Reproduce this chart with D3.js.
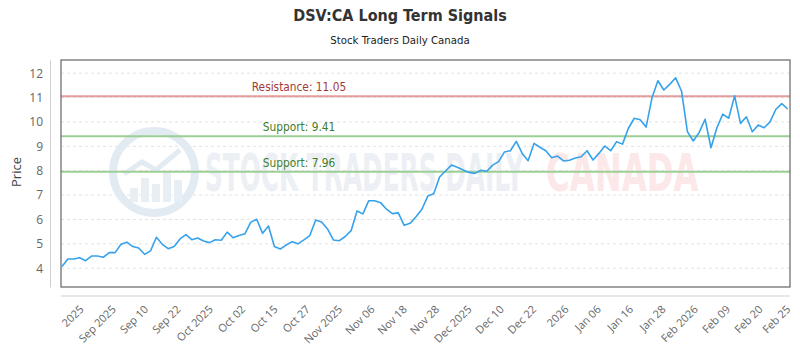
<!DOCTYPE html>
<html>
<head>
<meta charset="utf-8">
<script src="https://cdn.jsdelivr.net/npm/d3@7"></script>
<style>
  body { margin: 0; background: #fff; }
  text { font-family: "Open Sans", "DejaVu Sans", sans-serif; }
</style>
</head>
<body>
<svg id="chart" width="800" height="350"></svg>
<script>
// Daily closing prices, oldest first
const prices = [
  4.07, 4.38, 4.38, 4.43, 4.31, 4.50, 4.50, 4.45, 4.64, 4.64,
  4.98, 5.07, 4.89, 4.83, 4.57, 4.71, 5.27, 4.98, 4.80, 4.89,
  5.20, 5.38, 5.17, 5.24, 5.12, 5.05, 5.17, 5.15, 5.48, 5.25,
  5.34, 5.41,
  5.89, 6.01, 5.43, 5.73, 4.89, 4.79, 4.95, 5.09, 5.00, 5.16,
  5.34, 5.98, 5.90, 5.61, 5.16, 5.13, 5.30, 5.54, 6.35, 6.23,
  6.77, 6.77, 6.69, 6.42, 6.24, 6.27, 5.76, 5.84, 6.11, 6.42,
  6.96, 7.05, 7.74, 7.99, 8.23,
  8.14, 8.03, 7.93, 7.89, 8.02, 7.98, 8.23, 8.37, 8.77, 8.82,
  9.20, 8.71, 8.41, 9.12, 8.96, 8.82, 8.53, 8.60, 8.40, 8.43,
  8.52, 8.57, 8.82, 8.44, 8.71, 9.01, 8.82,
  9.19, 9.09, 9.74, 10.15, 10.09, 9.79, 10.99, 11.69, 11.31, 11.54,
  11.81, 11.27, 9.60, 9.22, 9.57, 10.11, 8.94, 9.76, 10.32, 10.15,
  11.07, 9.94, 10.21, 9.60, 9.87, 9.76, 10.00, 10.52, 10.75, 10.53
];

// Date labels along the bottom axis
const tickLabels = [
  "2025", "Sep 2025", "Sep 10", "Sep 22", "Oct 2025", "Oct 02", "Oct 15",
  "Oct 27", "Nov 2025", "Nov 06", "Nov 18", "Nov 28", "Dec 2025", "Dec 10",
  "Dec 22", "2026", "Jan 06", "Jan 16", "Jan 28", "Feb 2026", "Feb 09",
  "Feb 20", "Feb 25"
];

const yTicks = [4, 5, 6, 7, 8, 9, 10, 11, 12];

// Signal levels
const levelNames = ["Resistance", "Support", "Support"];
const levelValues = [11.05, 9.41, 7.96];
const levelKinds = ["res", "sup", "sup"];

const svg = d3.select("#chart");
const plot = { left: 61, right: 790, top: 60, bottom: 287 };
const narrow = "'Liberation Sans Narrow', 'DejaVu Sans Condensed', sans-serif";

const x = d3.scaleLinear().domain([0, prices.length - 1]).range([62, 787.7]);
const y = d3.scaleLinear().domain([3.23, 12.54]).range([plot.bottom, plot.top]);

// Title block
svg.append("text")
  .attr("x", 400).attr("y", 21)
  .attr("text-anchor", "middle")
  .style("font-family", narrow)
  .style("font-weight", "bold").style("font-size", "16px")
  .attr("fill", "#333")
  .text("DSV:CA Long Term Signals");

svg.append("text")
  .attr("x", 400).attr("y", 44)
  .attr("text-anchor", "middle")
  .style("font-family", narrow)
  .style("font-size", "11.3px")
  .attr("fill", "#222")
  .text("Stock Traders Daily Canada");

// Horizontal grid
svg.append("g").selectAll("line").data(yTicks).join("line")
  .attr("x1", plot.left).attr("x2", plot.right)
  .attr("y1", d => y(d)).attr("y2", d => y(d))
  .attr("stroke", "#e2e2e2").attr("stroke-dasharray", "3,3");

// Watermark
const wm = svg.append("g");
const cx = 154, cy = 172;
wm.append("circle").attr("cx", cx).attr("cy", cy).attr("r", 41)
  .attr("fill", "none").attr("stroke", "#e3ebf2").attr("stroke-width", 8);
[[-24, 14], [-13, 24], [-2, 18], [9, 30], [20, 22]].forEach(([dx, h]) => {
  wm.append("rect").attr("x", cx + dx).attr("y", cy + 30 - h)
    .attr("width", 8).attr("height", h).attr("fill", "#e7eef4");
});
wm.append("polyline")
  .attr("points", [[cx - 30, cy + 2], [cx - 12, cy - 10], [cx + 2, cy - 2], [cx + 26, cy - 22]].map(p => p.join(",")).join(" "))
  .attr("fill", "none").attr("stroke", "#e3ebf2").attr("stroke-width", 5);
wm.append("text")
  .attr("transform", "translate(205,191) scale(0.53,1)")
  .style("font-family", narrow)
  .style("font-size", "52px").style("font-weight", "bold")
  .attr("fill", "#ecf0f4")
  .text("STOCK TRADERS DAILY");
wm.append("text")
  .attr("transform", "translate(546,191) scale(0.69,1)")
  .style("font-family", narrow)
  .style("font-size", "52px").style("font-weight", "bold")
  .attr("fill", "#fce8e8")
  .text("CANADA");

// Signal level lines and labels
const lvl = svg.append("g");
levelValues.forEach((v, i) => {
  const col = levelKinds[i] === "res" ? "#e39d9d" : "#9ccf95";
  const txt = levelKinds[i] === "res" ? "#a23a35" : "#3f7d2c";
  lvl.append("line")
    .attr("x1", plot.left).attr("x2", plot.right)
    .attr("y1", y(v)).attr("y2", y(v))
    .attr("stroke", col).attr("stroke-width", 2);
  lvl.append("text")
    .attr("x", 299).attr("y", y(v) - 5)
    .attr("text-anchor", "middle")
    .style("font-family", narrow)
    .style("font-size", "11.8px")
    .attr("fill", txt)
    .text(levelNames[i] + ": " + v.toFixed(2));
});

// Price line
svg.append("path")
  .datum(prices)
  .attr("fill", "none")
  .attr("stroke", "#36a2eb")
  .attr("stroke-width", 1.6)
  .attr("stroke-linejoin", "round")
  .attr("d", d3.line().x((d, i) => x(i)).y(d => y(d)));

// Plot frame
svg.append("rect")
  .attr("x", plot.left).attr("y", plot.top)
  .attr("width", plot.right - plot.left).attr("height", plot.bottom - plot.top)
  .attr("fill", "none").attr("stroke", "#707070").attr("stroke-width", 1.3);

// Y axis
const yAxis = svg.append("g")
  .attr("transform", "translate(50,0)")
  .call(d3.axisLeft(y).tickValues(yTicks).tickSize(0).tickPadding(7));
yAxis.select(".domain").attr("stroke", "#cfcfcf");
yAxis.selectAll("text")
  .style("font-family", "'Open Sans', sans-serif")
  .style("font-size", "12px").attr("fill", "#666");

svg.append("text")
  .attr("transform", "translate(21,172) rotate(-90)")
  .attr("text-anchor", "middle")
  .style("font-family", "'Open Sans', sans-serif")
  .style("font-size", "13px").attr("fill", "#444")
  .text("Price");

// X axis: labels spread evenly, final label on the last session
const step = 5.48, first = 3.2;
const tickIdx = tickLabels.map((_, i) => i < tickLabels.length - 1 ? first + step * i : prices.length - 1);
svg.append("line")
  .attr("x1", plot.left).attr("x2", plot.right)
  .attr("y1", 296).attr("y2", 296)
  .attr("stroke", "#cfcfcf");
const xAxis = svg.append("g")
  .attr("transform", "translate(0,296)")
  .call(d3.axisBottom(x).tickValues(tickIdx).tickFormat((d, i) => tickLabels[i]).tickSize(0));
xAxis.select(".domain").remove();
xAxis.selectAll("text")
  .attr("text-anchor", "end")
  .attr("dy", null)
  .attr("y", null)
  .attr("transform", "translate(3,14) rotate(-45)")
  .style("font-family", "'Open Sans', sans-serif")
  .style("font-size", "11px").attr("fill", "#666");
</script>
</body>
</html>
